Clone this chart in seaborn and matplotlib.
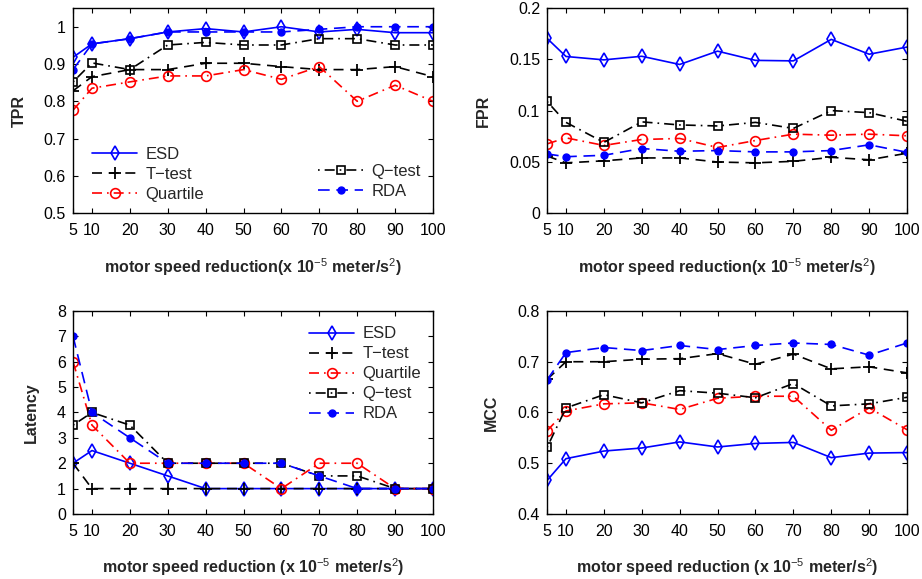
import matplotlib
matplotlib.use("Agg")
import matplotlib.pyplot as plt
import seaborn as sns
import pandas as pd

sns.set_style("ticks")
plt.rcParams['font.family'] = ['Liberation Sans', 'DejaVu Sans']
plt.rcParams['mathtext.fontset'] = 'custom'
plt.rcParams['mathtext.rm'] = 'Liberation Sans'
plt.rcParams['mathtext.bf'] = 'Liberation Sans:bold'

x_vals = [5, 10, 20, 30, 40, 50, 60, 70, 80, 90, 100]
methods = ["ESD", "T\u2212test", "Quartile", "Q\u2212test", "RDA"]

tpr_esd = [0.918, 0.954, 0.968, 0.986, 0.995, 0.986, 1.0, 0.986, 0.993, 0.984, 0.984]
tpr_ttest = [0.828, 0.866, 0.885, 0.885, 0.902, 0.902, 0.893, 0.885, 0.885, 0.893, 0.866]
tpr_quartile = [0.776, 0.835, 0.852, 0.868, 0.868, 0.885, 0.859, 0.893, 0.80, 0.843, 0.80]
tpr_qtest = [0.852, 0.903, 0.885, 0.951, 0.958, 0.951, 0.951, 0.968, 0.968, 0.951, 0.951]
tpr_rda = [0.885, 0.954, 0.968, 0.986, 0.986, 0.986, 0.986, 0.993, 1.0, 1.0, 1.0]

fpr_esd = [0.1705, 0.1528, 0.1495, 0.153, 0.145, 0.158, 0.149, 0.1485, 0.1695, 0.155, 0.162]
fpr_ttest = [0.0557, 0.049, 0.051, 0.0538, 0.0538, 0.0498, 0.049, 0.0505, 0.0544, 0.052, 0.0584]
fpr_quartile = [0.0675, 0.0734, 0.066, 0.0718, 0.0728, 0.064, 0.0708, 0.077, 0.076, 0.077, 0.0754]
fpr_qtest = [0.109, 0.0885, 0.069, 0.089, 0.086, 0.085, 0.0885, 0.0826, 0.100, 0.098, 0.0895]
fpr_rda = [0.0577, 0.055, 0.0564, 0.063, 0.0603, 0.061, 0.0597, 0.0597, 0.061, 0.0666, 0.0593]

lat_esd = [2, 2.5, 2, 1.5, 1, 1, 1, 1, 1, 1, 1]
lat_ttest = [2, 1, 1, 1, 1, 1, 1, 1, 1, 1, 1]
lat_quartile = [6, 3.5, 2, 2, 2, 2, 1, 2, 2, 1, 1]
lat_qtest = [3.5, 4, 3.5, 2, 2, 2, 2, 1.5, 1.5, 1, 1]
lat_rda = [7, 4, 3, 2, 2, 2, 2, 1.5, 1, 1, 1]

mcc_esd = [0.466, 0.509, 0.524, 0.530, 0.542, 0.532, 0.539, 0.541, 0.511, 0.520, 0.521]
mcc_ttest = [0.665, 0.700, 0.700, 0.705, 0.706, 0.716, 0.695, 0.715, 0.686, 0.690, 0.678]
mcc_quartile = [0.564, 0.603, 0.617, 0.619, 0.606, 0.628, 0.632, 0.632, 0.565, 0.609, 0.566]
mcc_qtest = [0.531, 0.609, 0.635, 0.619, 0.643, 0.638, 0.629, 0.657, 0.613, 0.617, 0.630]
mcc_rda = [0.664, 0.718, 0.728, 0.722, 0.732, 0.724, 0.732, 0.737, 0.734, 0.713, 0.737]

BLUE = "#0000ff"
RED = "#ff0000"
styles = {
    "ESD": dict(color=BLUE, linestyle="-", marker="d", markerfacecolor="none", markeredgecolor=BLUE,
                markersize=7, markeredgewidth=1.2),
    "T\u2212test": dict(color="black", linestyle=(0, (6, 4)), marker="+", markeredgecolor="black",
                        markersize=8, markeredgewidth=1.3),
    "Quartile": dict(color=RED, linestyle=(0, (6, 3, 1, 3)), marker="o", markerfacecolor="none", markeredgecolor=RED,
                     markersize=7, markeredgewidth=1.2),
    "Q\u2212test": dict(color="black", linestyle=(0, (1, 3, 6, 3)), marker="s", markerfacecolor="none",
                        markeredgecolor="black", markersize=5.5, markeredgewidth=1.2),
    "RDA": dict(color=BLUE, linestyle=(0, (7, 4)), marker="o", markerfacecolor=BLUE, markeredgecolor=BLUE,
                markersize=5, markeredgewidth=1),
}

panels = [
    ("TPR", [tpr_esd, tpr_ttest, tpr_quartile, tpr_qtest, tpr_rda], (0.5, 1.05), [0.5, 0.6, 0.7, 0.8, 0.9, 1.0],
     ["0.5", "0.6", "0.7", "0.8", "0.9", "1"],
     "motor speed reduction(x 10$^{-5}$ meter/s$^{2}$)", [0.0792, 0.632, 0.3904, 0.354], -0.128),
    ("FPR", [fpr_esd, fpr_ttest, fpr_quartile, fpr_qtest, fpr_rda], (0, 0.2), [0, 0.05, 0.1, 0.15, 0.2],
     ["0", "0.05", "0.1", "0.15", "0.2"],
     "motor speed reduction(x 10$^{-5}$ meter/s$^{2}$)", [0.5933, 0.632, 0.3905, 0.354], -0.157),
    ("Latency", [lat_esd, lat_ttest, lat_quartile, lat_qtest, lat_rda], (0, 8), list(range(9)),
     [str(i) for i in range(9)],
     "motor speed reduction (x 10$^{-5}$ meter/s$^{2}$)", [0.0792, 0.1123, 0.3904, 0.3506], -0.094),
    ("MCC", [mcc_esd, mcc_ttest, mcc_quartile, mcc_qtest, mcc_rda], (0.4, 0.8), [0.4, 0.5, 0.6, 0.7, 0.8],
     ["0.4", "0.5", "0.6", "0.7", "0.8"],
     "motor speed reduction (x 10$^{-5}$ meter/s$^{2}$)", [0.5933, 0.1123, 0.3905, 0.3506], -0.133),
]

fig = plt.figure(figsize=(9.22, 5.79), dpi=100)

leg_kw = dict(frameon=False, fontsize=12, handlelength=2.7, labelspacing=0.3, handletextpad=0.5,
              borderpad=0.2, borderaxespad=0.3)

for name, series, ylim, yticks, yticklabels, xlabel, pos, ylab_x in panels:
    ax = fig.add_axes(pos)
    for m, vals in zip(methods, series):
        df = pd.DataFrame({"x": x_vals, "y": vals})
        sns.lineplot(data=df, x="x", y="y", ax=ax, label=m, linewidth=1.2, **styles[m])
    ax.set_xlim(5, 100)
    ax.set_ylim(*ylim)
    ax.set_xticks(x_vals)
    ax.set_xticklabels([str(v) for v in x_vals], fontsize=11.5)
    ax.set_yticks(yticks)
    ax.set_yticklabels(yticklabels, fontsize=11.5)
    ax.tick_params(direction="in", top=True, right=True, length=3.5, width=0.8, colors="black")
    ax.tick_params(axis="x", pad=7)
    ax.tick_params(axis="y", pad=5)
    for s in ax.spines.values():
        s.set_linewidth(1.0)
        s.set_color("black")
    ax.set_xlabel(xlabel, fontsize=11.5, fontweight="bold", labelpad=13)
    ax.set_ylabel(name, fontsize=11.5, fontweight="bold")
    ax.yaxis.set_label_coords(ylab_x, 0.5)
    handles, labels = ax.get_legend_handles_labels()
    if ax.get_legend():
        ax.get_legend().remove()
    if name == "TPR":
        leg1 = ax.legend(handles[:3], labels[:3], loc="lower left", bbox_to_anchor=(0.03, 0.015), **leg_kw)
        ax.add_artist(leg1)
        ax.legend(handles[3:], labels[3:], loc="lower right", bbox_to_anchor=(0.99, 0.03), **leg_kw)
    elif name == "Latency":
        ax.legend(handles, labels, loc="upper right", bbox_to_anchor=(0.99, 0.965), **leg_kw)

fig.savefig("out.png", dpi=100)
